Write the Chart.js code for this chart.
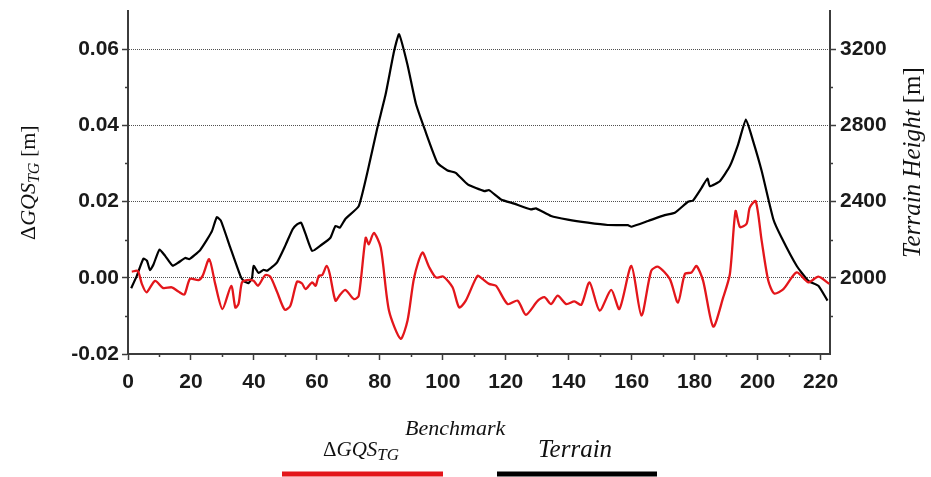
<!DOCTYPE html>
<html>
<head>
<meta charset="utf-8">
<script src="https://cdn.jsdelivr.net/npm/chart.js@4.4.1/dist/chart.umd.min.js"></script>
<style>
  html, body { margin: 0; padding: 0; background: #fff; }
  #wrap { width: 931px; height: 477px; }
</style>
</head>
<body>
<div id="wrap"><canvas id="profileChart" width="931" height="477"></canvas></div>
<script>
// terrain profile (right axis, m)
const terrainDistance = [1, 2.8, 4.9, 6, 7, 8.1, 10, 11.8, 14.2, 16, 18.2, 19.5, 22.9, 25.1, 26.7, 28.2, 29.5, 32.5, 35.7, 36.7,
  38.3, 39.4, 39.9, 41.5, 43.1, 44.2, 47.3, 50, 52.3, 53.7, 55, 56.4, 58.5, 61.4, 64.3, 65.9, 67.3, 69.1, 73.3, 76.5,
  79.2, 81.8, 84.5, 86.1, 88.8, 91.4, 94.3, 98.3, 101.5, 104.1, 107.9, 113.2, 114.7, 118.5, 122.7, 128, 129.6, 134.4, 139.7, 146.1,
  152.4, 158.8, 159.9, 165.2, 170.5, 173.7, 177.9, 179.5, 182.2, 184.1, 184.8, 188, 191.2, 193.8, 196.3, 198.6, 201.3, 205, 207.6, 212.4,
  216.1, 219.3, 222.2];
const terrainHeight = [1945, 2010, 2100, 2090, 2040, 2070, 2148, 2115, 2063, 2080, 2104, 2098, 2145, 2200, 2246, 2318, 2300, 2158, 2010, 1984,
  1972, 2000, 2063, 2025, 2042, 2037, 2080, 2170, 2255, 2280, 2289, 2230, 2141, 2172, 2210, 2272, 2263, 2310, 2376, 2586,
  2786, 2960, 3187, 3278, 3117, 2917, 2777, 2603, 2563, 2551, 2490, 2455, 2460, 2411, 2389, 2359, 2364, 2324, 2305, 2289,
  2277, 2276, 2268, 2298, 2329, 2341, 2399, 2406, 2472, 2521, 2481, 2507, 2586, 2699, 2830, 2716, 2560, 2307, 2211, 2063,
  1984, 1958, 1880];

// delta GQS benchmark (left axis, m)
const dgqsDistance = [1.2, 3.1, 4.4, 5.9, 8.6, 11.2, 13.9, 16, 17.9, 19.7, 22.4, 23.7, 25.8, 27.7, 30, 32.8, 34.1, 35.1, 36.2, 37.8,
  39.9, 41.3, 43.6, 45.2, 47.4, 49.8, 51.6, 53.7, 55.3, 56.4, 58.5, 59.6, 60.6, 61.7, 63.1, 64.1, 65.9, 67.5, 69.1, 71.8,
  73.3, 75.5, 76.5, 78.1, 80.3, 82.9, 86.6, 88.8, 90.9, 93.5, 95.6, 97.8, 100.2, 103.1, 105.2, 107.3, 111, 112.6, 114.7, 116.9,
  120.6, 123.8, 126.4, 130.2, 132.3, 134.4, 136.5, 139.2, 141.8, 144, 146.6, 149.8, 153.5, 156.1, 159.9, 163.1, 166.2, 168.4, 172.1, 174.7,
  176.9, 179, 180.6, 182.7, 185.9, 189.1, 191.2, 193, 194.4, 196.5, 197.5, 199.4, 201.3, 203.4, 205.3, 208.2, 212.4, 216.1, 219.3, 222.8];
const dgqsBenchmark = [0.0016, 0.0018, -0.0016, -0.0038, -0.0008, -0.0027, -0.0025, -0.0036, -0.0044, -0.0003, -0.0006, 0.0005, 0.0049, -0.0016, -0.0082, -0.0021, -0.0078, -0.0069, -0.0012, -0.0006,
  -0.0008, -0.0021, 0.0007, 0.0003, -0.0038, -0.0084, -0.0073, -0.001, -0.0015, -0.003, -0.0012, -0.0021, 0.0005, 0.0007, 0.0031, 0.001, -0.006, -0.0043, -0.0032, -0.0056,
  -0.0047, 0.0105, 0.0088, 0.0118, 0.0079, -0.0086, -0.016, -0.0112, 0.0001, 0.0066, 0.0029, 0.0001, 0.0003, -0.0025, -0.0078, -0.006, 0.0005, -0.0003, -0.0016, -0.0021,
  -0.0069, -0.006, -0.0097, -0.006, -0.0051, -0.0069, -0.0047, -0.0069, -0.0062, -0.0071, -0.0012, -0.0086, -0.0032, -0.0082, 0.0031, -0.0099, 0.0018, 0.0029, -0.0003, -0.0065,
  0.001, 0.0014, 0.0031, -0.0008, -0.0128, -0.0051, 0.001, 0.0175, 0.0133, 0.0142, 0.0184, 0.0201, 0.0097, -0.0008, -0.0041, -0.003, 0.0014, -0.0012, 0.0003, -0.0016];

const xTickLabels = ['0', '20', '40', '60', '80', '100', '120', '140', '160', '180', '200', '220'];
const leftTickLabels = ['-0.02', '0.00', '0.02', '0.04', '0.06'];
const rightTickLabels = ['2000', '2400', '2800', '3200'];

const tickFont = { family: '"Liberation Sans", Arial, sans-serif', size: 21, weight: 'bold' };
const axisColor = '#3c3c3c';
const serif = '"Liberation Serif", "DejaVu Serif", serif';

function fmtLeft(v) {
  if (Math.abs(v) < 1e-9) return '0.00';
  return v.toFixed(2);
}
function isMajorX(v) { return xTickLabels.includes(String(v)); }
function isMajorLeft(v) { return leftTickLabels.includes(fmtLeft(v)); }
function isMajorRight(v) { return rightTickLabels.includes(String(v)) || v === 1600; }

// keep the plot area where the reference has it
function fixY(width) {
  return s => { s.width = width; s.paddingTop = 0; s.paddingBottom = 0; };
}

// draws pieces of text one after another, returns the new x
function drawRun(ctx, parts, x, y) {
  parts.forEach(p => {
    ctx.font = p.font;
    ctx.fillText(p.text, x, y + (p.dy || 0));
    x += ctx.measureText(p.text).width + (p.gap || 0);
  });
  return x;
}

// short minor ticks (Chart.js only has one tick length)
const minorTicks = {
  id: 'minorTicks',
  afterDraw(chart) {
    const { x, y, y2 } = chart.scales;
    const ctx = chart.ctx;
    const len = 3;
    ctx.save();
    ctx.strokeStyle = axisColor;
    ctx.lineWidth = 1.5;
    ctx.beginPath();
    x.ticks.forEach(t => {
      if (isMajorX(t.value)) return;
      const px = Math.round(x.getPixelForValue(t.value)) + 0.5;
      ctx.moveTo(px, x.top); ctx.lineTo(px, x.top + len);
    });
    y.ticks.forEach(t => {
      if (isMajorLeft(t.value) || fmtLeft(t.value) === '0.07') return;
      const py = Math.round(y.getPixelForValue(t.value)) + 0.5;
      ctx.moveTo(y.right, py); ctx.lineTo(y.right - len, py);
    });
    y2.ticks.forEach(t => {
      if (isMajorRight(t.value) || t.value === 3400) return;
      const py = Math.round(y2.getPixelForValue(t.value)) + 0.5;
      ctx.moveTo(y2.left, py); ctx.lineTo(y2.left + len, py);
    });
    ctx.stroke();
    ctx.restore();
  }
};

const textPlugin = {
  id: 'textPlugin',
  afterDraw(chart) {
    const ctx = chart.ctx;
    ctx.save();
    ctx.fillStyle = '#111';
    ctx.textBaseline = 'alphabetic';
    ctx.textAlign = 'left';

    // left axis title
    ctx.save();
    ctx.translate(35, 240);
    ctx.rotate(-Math.PI / 2);
    drawRun(ctx, [
      { text: 'Δ', font: '22px ' + serif },
      { text: 'GQS', font: 'italic 22px ' + serif },
      { text: 'TG', font: 'italic 16px ' + serif, dy: 4 },
      { text: ' [m]', font: '22px ' + serif }
    ], 0, 0);
    ctx.restore();

    // right axis title
    ctx.save();
    ctx.translate(920, 258);
    ctx.rotate(-Math.PI / 2);
    drawRun(ctx, [
      { text: 'Terrain Height', font: 'italic 25px ' + serif },
      { text: ' [m]', font: '25px ' + serif }
    ], 0, 0);
    ctx.restore();

    // legend
    let x = drawRun(ctx, [
      { text: 'Δ', font: '21px ' + serif },
      { text: 'GQS', font: 'italic 21px ' + serif },
      { text: 'TG', font: 'italic 17px ' + serif, dy: 4, gap: 6 }
    ], 323, 456);
    ctx.font = 'italic 22px ' + serif;
    ctx.fillText('Benchmark', x, 435);
    ctx.font = 'italic 25px ' + serif;
    ctx.fillText('Terrain', 538, 457);

    ctx.lineWidth = 5;
    ctx.strokeStyle = '#e3161b';
    ctx.beginPath(); ctx.moveTo(282, 474); ctx.lineTo(443, 474); ctx.stroke();
    ctx.strokeStyle = '#000';
    ctx.beginPath(); ctx.moveTo(497, 474); ctx.lineTo(657, 474); ctx.stroke();
    ctx.restore();
  }
};

const ctx = document.getElementById('profileChart').getContext('2d');
new Chart(ctx, {
  type: 'line',
  data: {
    datasets: [{
      label: 'Benchmark',
      data: dgqsDistance.map((d, i) => ({ x: d, y: dgqsBenchmark[i] })),
      yAxisID: 'y',
      borderColor: '#e3161b',
      borderWidth: 2.3,
      pointRadius: 0,
      tension: 0.25,
    }, {
      label: 'Terrain',
      data: terrainDistance.map((d, i) => ({ x: d, y: terrainHeight[i] })),
      yAxisID: 'y2',
      borderColor: '#000',
      borderWidth: 2.2,
      pointRadius: 0,
      tension: 0.15,
    }],
  },
  options: {
    responsive: false,
    animation: false,
    devicePixelRatio: 1,
    layout: { padding: { top: 11, left: 0, right: 0, bottom: 0 } },
    plugins: { legend: { display: false }, tooltip: { enabled: false } },
    scales: {
      x: {
        type: 'linear',
        min: 0,
        max: 223,
        afterFit: s => { s.height = 123; },
        border: { color: axisColor, width: 2 },
        grid: {
          drawOnChartArea: false, tickLength: 6, tickWidth: 1.5,
          tickColor: c => (c.tick && isMajorX(c.tick.value)) ? axisColor : 'transparent'
        },
        ticks: {
          stepSize: 10, includeBounds: false, autoSkip: false, maxRotation: 0, padding: 10,
          color: '#1a1a1a', font: tickFont,
          callback: v => isMajorX(v) ? String(v) : ''
        }
      },
      y: {
        position: 'left',
        min: -0.02,
        max: 0.07,
        afterFit: fixY(128),
        border: { color: axisColor, width: 2, dash: [1, 1] },
        grid: {
          lineWidth: 1,
          color: c => (c.tick && ['0.00', '0.02', '0.04', '0.06'].includes(fmtLeft(c.tick.value))) ? '#505050' : 'transparent',
          tickLength: 6, tickWidth: 1.5, tickBorderDash: [],
          tickColor: c => (c.tick && isMajorLeft(c.tick.value)) ? axisColor : 'transparent'
        },
        ticks: {
          stepSize: 0.01, includeBounds: false, autoSkip: false, padding: 3,
          color: '#1a1a1a', font: tickFont,
          callback: v => isMajorLeft(v) ? fmtLeft(v) : ''
        }
      },
      y2: {
        position: 'right',
        min: 1600,
        max: 3400,
        afterFit: fixY(101),
        border: { color: axisColor, width: 2 },
        grid: {
          drawOnChartArea: false, tickLength: 6, tickWidth: 1.5,
          tickColor: c => (c.tick && rightTickLabels.includes(String(c.tick.value))) ? axisColor : 'transparent'
        },
        ticks: {
          stepSize: 200, includeBounds: false, autoSkip: false, padding: 4,
          color: '#1a1a1a', font: tickFont,
          callback: v => rightTickLabels.includes(String(v)) ? String(v) : ''
        }
      }
    }
  },
  plugins: [minorTicks, textPlugin]
});
</script>
</body>
</html>
